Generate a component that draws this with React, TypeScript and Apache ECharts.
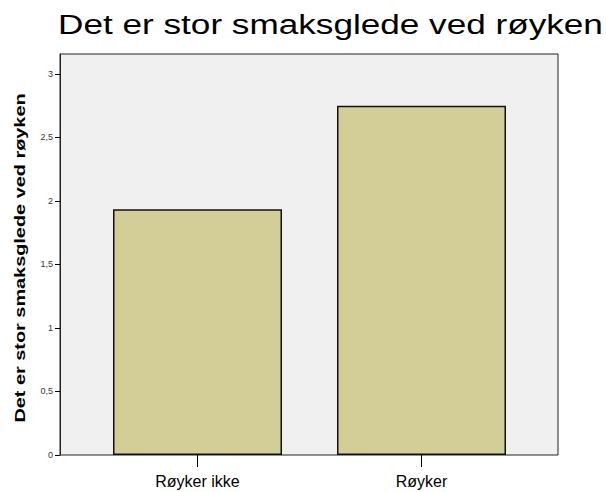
import React, { useEffect, useRef } from "react";
import * as echarts from "echarts";

const categories = ["Røyker ikke", "Røyker"];
const values = [1.935, 2.75];
const titleText = "Det er stor smaksglede ved røyken";
const yAxisTitle = "Det er stor smaksglede ved røyken";
const yMin = 0;
const yMax = 3.157;
const yStep = 0.5;

export default function App() {
  const ref = useRef<HTMLDivElement>(null);
  useEffect(() => {
    if (!ref.current) return;
    const chart = echarts.init(ref.current, undefined, { renderer: "svg" });
    const font = "Liberation Sans, Arial, sans-serif";
    chart.setOption({
      animation: false,
      backgroundColor: "#ffffff",
      textStyle: { fontFamily: font },
      graphic: [
        {
          type: "text",
          x: 330.5,
          y: 10,
          scaleX: 1.255,
          style: {
            text: titleText,
            fontSize: 28,
            fontFamily: font,
            fill: "#000",
            textAlign: "center",
            textVerticalAlign: "top",
          },
        },
        {
          type: "text",
          x: 20,
          y: 258,
          rotation: Math.PI / 2,
          scaleX: 1.42,
          style: {
            text: yAxisTitle,
            fontSize: 14,
            fontWeight: "bold",
            fontFamily: font,
            fill: "#000",
            textAlign: "center",
            textVerticalAlign: "middle",
          },
        },
      ],
      grid: [
        {
          left: 60,
          top: 54,
          width: 498,
          height: 401,
          show: true,
          backgroundColor: "#f0f0f0",
          borderColor: "#222",
          borderWidth: 1,
          containLabel: false,
          outerBoundsMode: "none",
        },
        {
          left: 85.5,
          top: 54,
          width: 448,
          height: 401,
          containLabel: false,
          outerBoundsMode: "none",
        },
      ],
      xAxis: [
        {
          gridIndex: 0,
          type: "value",
          min: 0,
          max: 1,
          show: false,
        },
        {
          gridIndex: 1,
          type: "category",
          data: categories,
          boundaryGap: true,
          axisLine: { show: false },
          axisTick: {
            show: true,
            alignWithLabel: true,
            length: 12,
            lineStyle: { color: "#000", width: 1 },
          },
          axisLabel: {
            fontSize: 16,
            color: "#000",
            margin: 18,
            fontFamily: font,
          },
          splitLine: { show: false },
        },
      ],
      yAxis: [
        {
          gridIndex: 0,
          type: "value",
          min: yMin,
          max: yMax,
          interval: yStep,
          axisLine: { show: true, lineStyle: { color: "#222", width: 1 } },
          axisTick: { show: true, length: 5, lineStyle: { color: "#000" } },
          axisLabel: {
            fontSize: 9,
            color: "#333",
            margin: 7,
            fontFamily: font,
            showMaxLabel: false,
            formatter: (v: number) => String(v).replace(".", ","),
          },
          splitLine: { show: false },
        },
        {
          gridIndex: 1,
          type: "value",
          min: yMin,
          max: yMax,
          show: false,
          splitLine: { show: false },
        },
      ],
      series: [
        {
          type: "bar",
          xAxisIndex: 1,
          yAxisIndex: 1,
          data: values,
          barWidth: 169,
          itemStyle: {
            color: "#d3ce97",
            borderColor: "#111",
            borderWidth: 1.5,
          },
        },
      ],
    });
    return () => chart.dispose();
  }, []);
  return (
    <div
      ref={ref}
      style={{ position: "fixed", left: 0, top: 0, width: 606, height: 492 }}
    />
  );
}
